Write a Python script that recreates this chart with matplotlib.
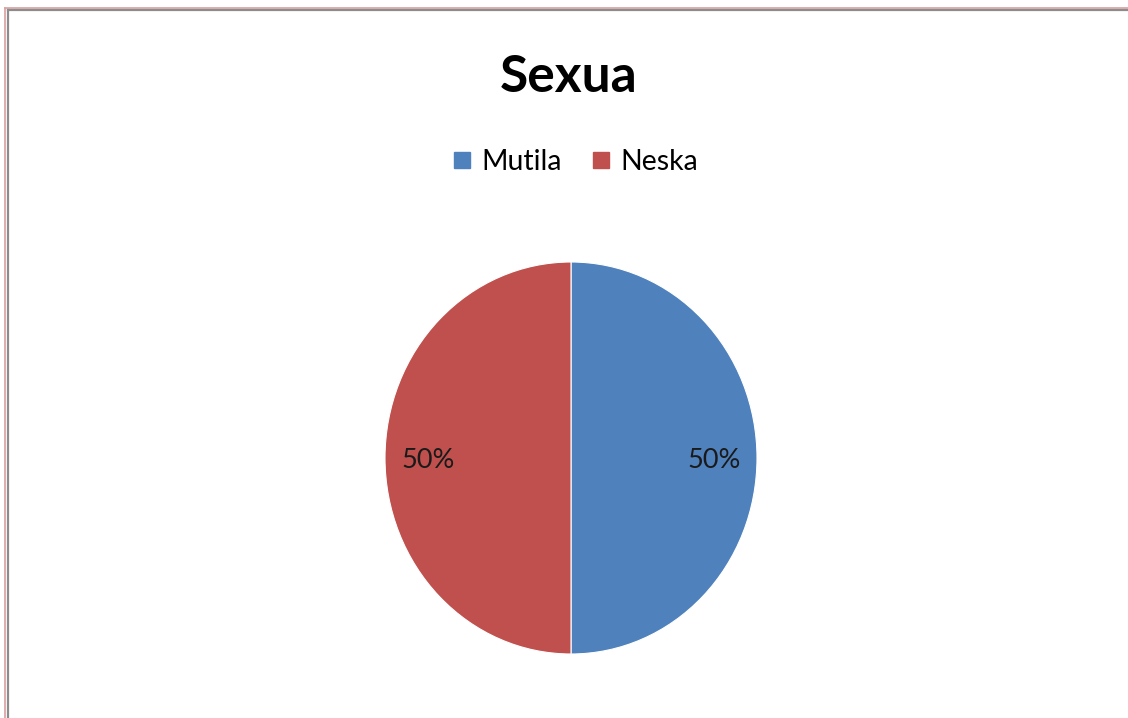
import matplotlib
matplotlib.use("Agg")
import matplotlib.pyplot as plt
from matplotlib.lines import Line2D

title = "Sexua"
categories = ["Mutila", "Neska"]
values = [50, 50]
colors = ["#4F81BD", "#C0504D"]

W, H = 1128, 718
fig = plt.figure(figsize=(W / 100, H / 100), dpi=100)
fig.patch.set_facecolor("white")

# border lines (top and left)
fig.add_artist(Line2D([4.5 / W, 1], [1 - 8 / H, 1 - 8 / H], color="#D9A0A0", lw=1.2))
fig.add_artist(Line2D([7.5 / W, 1], [1 - 10 / H, 1 - 10 / H], color="#8C8C8C", lw=1.6))
fig.add_artist(Line2D([4.5 / W, 4.5 / W], [0, 1 - 8 / H], color="#D9A0A0", lw=1.2))
fig.add_artist(Line2D([7.5 / W, 7.5 / W], [0, 1 - 10 / H], color="#8C8C8C", lw=1.6))

# pie axes
cx, cy, rx, ry = 571, 458, 186, 196
ax = fig.add_axes([(cx - rx) / W, 1 - (cy + ry) / H, 2 * rx / W, 2 * ry / H])
wedges, texts, autotexts = ax.pie(
    values, colors=colors, startangle=90, counterclock=False,
    autopct=lambda p: f"{p:.0f}%", pctdistance=0.77,
    wedgeprops=dict(edgecolor="white", linewidth=0.8),
    textprops=dict(fontsize=19.5, family="Lato", color="#1a1a1a"),
)
for t in autotexts:
    x, y = t.get_position()
    t.set_position((x, y - 0.015))
ax.set_aspect("auto")
ax.set_xlim(-1, 1)
ax.set_ylim(-1, 1)
ax.axis("off")

fig.text(569 / W, 1 - 77 / H, title, ha="center", va="center",
         fontsize=37, fontweight="bold", family="Lato", color="black")

handles = [Line2D([], [], marker="s", linestyle="none", markersize=11.5,
                  markerfacecolor=c, markeredgecolor=c) for c in colors]
fig.legend(handles, categories, loc="center", bbox_to_anchor=(575 / W, 1 - 162 / H),
           ncol=2, frameon=False, prop=dict(family="Lato", size=20.5),
           handlelength=0.7, handletextpad=0.35, columnspacing=1.0)

fig.savefig("out.png", dpi=100, facecolor="white")
